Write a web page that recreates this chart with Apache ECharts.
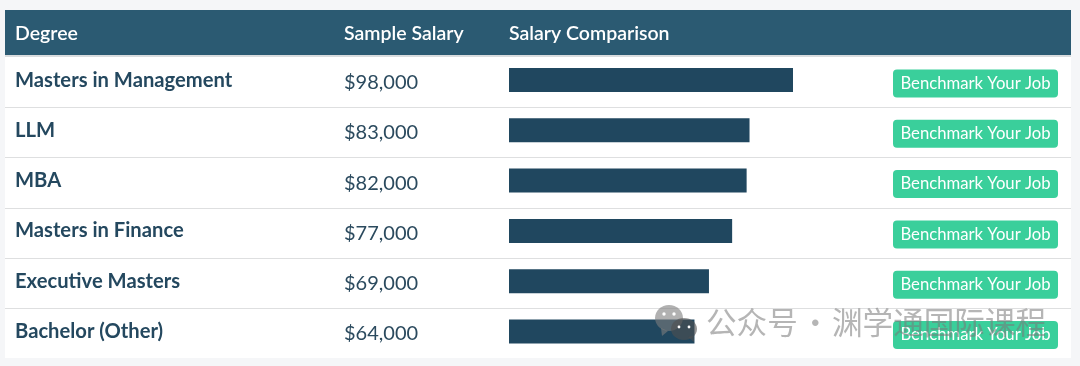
<!DOCTYPE html>
<html>
<head>
<meta charset="utf-8">
<style>
html,body{margin:0;padding:0;background:#f5f6f8;}
#main{width:1080px;height:366px;}
</style>
<script src="https://cdn.jsdelivr.net/npm/echarts@6/dist/echarts.min.js"></script>
</head>
<body>
<div id="main"></div>
<script>
const degrees = ['Masters in Management','LLM','MBA','Masters in Finance','Executive Masters','Bachelor (Other)'];
const salaries = [98000,83000,82000,77000,69000,64000];
const headers = ['Degree','Sample Salary','Salary Comparison'];
const buttonText = 'Benchmark Your Job';
const watermarkLeft = '公众号';
const watermarkDot = '·';
const watermarkRight = '渊学通国际课程';

const FONT = 'Lato';
const ROW_H = 50.3;
const lines = [107,157,208,258,308];

const fmt = v => '$' + v.toLocaleString('en-US');
const chart = echarts.init(document.getElementById('main'));

const headerFont = '600 19.5px '+FONT;
const wmFont = '30.6px "Noto Sans CJK SC"';
const wmFill = 'rgba(120,120,120,0.55)';

const graphics = [
    { type:'rect', z:-2, shape:{x:5,y:10,width:1066,height:348}, style:{fill:'#ffffff'} },
    { type:'rect', z:-1, shape:{x:5,y:55,width:1066,height:2}, style:{fill:'#d9dcde'} },
    { type:'rect', z:-1, shape:{x:5,y:10,width:1066,height:45}, style:{fill:'#2b5a72'} },
    // 表头
    { type:'text', z:5, style:{x:15,y:34,text:headers[0],fill:'#fff',font:headerFont,verticalAlign:'middle'} },
    { type:'text', z:5, style:{x:344,y:34,text:headers[1],fill:'#fff',font:headerFont,verticalAlign:'middle'} },
    { type:'text', z:5, style:{x:509,y:34,text:headers[2],fill:'#fff',font:headerFont,verticalAlign:'middle'} }
];
lines.forEach(y=>{
    graphics.push({ type:'rect', z:-1, shape:{x:5,y:y,width:1066,height:1}, style:{fill:'#dedfe0'} });
});
// 水印
graphics.push(
    { type:'ellipse', z:100, shape:{cx:669,cy:318,rx:14,ry:13}, style:{fill:'rgba(125,125,125,0.6)'} },
    { type:'polygon', z:100, shape:{points:[[661,328],[668,331],[662,336]]}, style:{fill:'rgba(125,125,125,0.6)'} },
    { type:'ellipse', z:101, shape:{cx:684,cy:329,rx:13,ry:11}, style:{fill:'rgba(80,80,80,0.6)'} },
    { type:'polygon', z:101, shape:{points:[[688,337],[694,336],[694,342]]}, style:{fill:'rgba(80,80,80,0.6)'} },
    { type:'circle', z:102, shape:{cx:664,cy:314,r:1.7}, style:{fill:'#fff'} },
    { type:'circle', z:102, shape:{cx:674,cy:314,r:1.7}, style:{fill:'#fff'} },
    { type:'circle', z:102, shape:{cx:679,cy:327,r:1.4}, style:{fill:'#fff'} },
    { type:'circle', z:102, shape:{cx:689,cy:327,r:1.4}, style:{fill:'#fff'} },
    { type:'text', z:100, style:{x:706,y:322,text:watermarkLeft,fill:wmFill,font:wmFont,verticalAlign:'middle'} },
    { type:'text', z:100, style:{x:800,y:322,text:watermarkDot,fill:wmFill,font:wmFont,verticalAlign:'middle'} },
    { type:'text', z:100, style:{x:832,y:322,text:watermarkRight,fill:wmFill,font:wmFont,verticalAlign:'middle'} }
);

const option = {
    animation:false,
    backgroundColor:'#f5f6f8',
    grid:{ left:509, top:80-ROW_H/2, width:284, height:ROW_H*6 },
    xAxis:{ type:'value', min:0, max:98000, show:false },
    yAxis:[
        {
            type:'category', inverse:true, data:degrees,
            axisLine:{show:false}, axisTick:{show:false},
            axisLabel:{ align:'left', margin:494, color:'#24485f', fontFamily:FONT, fontWeight:'bold', fontSize:20.2, padding:[0,0,4,0] }
        },
        {
            type:'category', inverse:true, position:'left', offset:165, data:salaries,
            axisLine:{show:false}, axisTick:{show:false},
            axisLabel:{
                align:'left', margin:0, padding:[5,0,0,0],
                formatter:v=>'{s|'+fmt(Number(v))+'}',
                rich:{ s:{ color:'#2b4a5e', fontFamily:FONT, fontSize:20 } }
            }
        },
        {
            type:'category', inverse:true, position:'right', offset:100, data:degrees.map(()=>buttonText),
            axisLine:{show:false}, axisTick:{show:false},
            axisLabel:{
                margin:0, align:'left', padding:[7,0,0,0],
                formatter:'{b|{value}}',
                rich:{ b:{ width:165, height:28, lineHeight:28, align:'center', backgroundColor:'#3acf9b', borderRadius:4, color:'#fff', fontFamily:FONT, fontSize:16.7 } }
            }
        }
    ],
    series:[
        { type:'bar', yAxisIndex:0, data:salaries, barWidth:24, itemStyle:{color:'#20475f'}, silent:true }
    ],
    graphic:{ elements:graphics }
};
chart.setOption(option);
</script>
</body>
</html>
